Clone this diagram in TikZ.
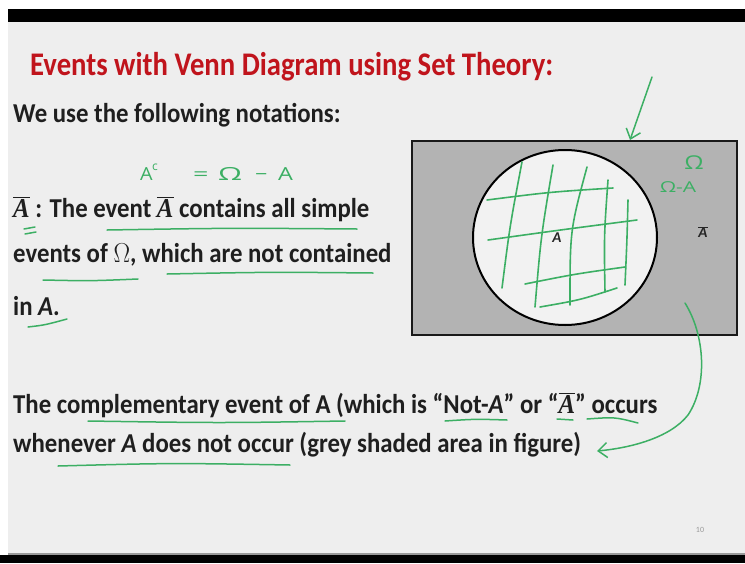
\documentclass[tikz,border=0pt]{standalone}
\usepackage{fontspec}
\setmainfont{Carlito}
\newfontfamily\handfont{Open Sans}
\newfontfamily\seriffont{Liberation Serif}
\usetikzlibrary{arrows.meta,shapes.geometric}
\definecolor{slidebg}{HTML}{EEEEEE}
\definecolor{titlered}{HTML}{C0141C}
\definecolor{pen}{RGB}{60,175,100}
\definecolor{shade}{HTML}{B3B3B3}
\definecolor{innerfill}{HTML}{F2F2F2}
\newcommand\Abar{$\overline{\mbox{\seriffont\itshape A}}$}
\newcommand\tallbody[1]{\scalebox{1}[1.1]{#1}}
\begin{document}
\begin{tikzpicture}[x=1pt,y=-1pt,
  txt/.style={anchor=base west, inner sep=0pt, font=\fontsize{24.8}{28}\selectfont\bfseries, text=black!88},
  ink/.style={draw=pen, line width=1.5pt, line cap=round, line join=round},
  hatch/.style={draw=pen, line width=1.6pt, line cap=round},
  tip/.style={-{Straight Barb[length=9pt,width=15pt,line width=1.5pt]}}
]
\useasboundingbox (0,0) rectangle (745,563);
\fill[white] (0,0) rectangle (745,563);
\fill[black] (8,9) rectangle (745,22);
\fill[slidebg] (8,22) rectangle (745,553);
\fill[black!40] (8,553) rectangle (745,555);
\fill[black] (0,555) rectangle (745,563);

% texts
\node[txt, font=\fontsize{28.7}{32}\selectfont\bfseries, text=titlered] (title) at (30,75) {\scalebox{1}[1.15]{Events with Venn Diagram using Set Theory:}};
\node[txt] (notes) at (13,122) {\tallbody{We use the following notations:}};
\node[anchor=base west, inner sep=0pt, text=pen, font=\handfont\fontsize{18}{20}\selectfont] (formula) at (140,180)
  {\makebox[12pt][l]{\scalebox{1.1}[1]{A}}\makebox[41pt][l]{\raisebox{10pt}{\fontsize{12}{12}\selectfont c}}\makebox[25pt][l]{\scalebox{1.5}[1]{=}}\makebox[37pt][l]{\scalebox{1.7}[1]{Ω}}\makebox[23pt][l]{\scalebox{1.2}[1]{−}}\scalebox{1.3}[1]{A}};
\node[txt] (lineA) at (13,217) {\tallbody{\Abar{} : The event \Abar{} contains all simple}};
\node[txt] (lineB) at (13,262) {\tallbody{events of $\Omega$, which are not contained}};
\node[txt] (lineC) at (13,315) {\tallbody{in \textit{A}.}};
\node[txt] (comp1) at (13,413) {\tallbody{The complementary event of A (which is “Not-\textit{A}” or “\Abar” occurs}};
\node[txt] (comp2) at (13,452) {\tallbody{whenever \textit{A} does not occur (grey shaded area in figure)}};
\node[text=black!40, font=\fontsize{8}{8}\selectfont, inner sep=0pt] (pg) at (700,530) {10};

% Venn diagram
\node[draw=black!90, line width=2.5pt, fill=shade, minimum width=325pt, minimum height=194pt, inner sep=0pt] (omega) at (574.5,238) {};
\node[ellipse, draw=black, line width=2pt, fill=innerfill, minimum width=184pt, minimum height=175pt, inner sep=0pt] (setA) at (565,237.5) {};

% hatching
\draw[hatch] (522,162) .. controls (510,225) .. (502,288);
\draw[hatch] (553,165) .. controls (541,236) .. (535,307);
\draw[hatch] (587,167) .. controls (570,230) .. (570,305);
\draw[hatch] (608,180) .. controls (604,236) .. (605,292);
\draw[hatch] (628,200) .. controls (627,240) .. (625,285);
\draw[hatch] (487,200) .. controls (550,192) .. (613,188);
\draw[hatch] (488,240) .. controls (560,230) .. (637,220);
\draw[hatch] (525,284) .. controls (575,274) .. (625,267);
\draw[hatch] (540,307) .. controls (580,300) .. (617,288);

\node[font=\fontsize{15}{15}\selectfont\bfseries\itshape, inner sep=0pt, text=black!85] (alabel) at (557,238) {A};
\node[font=\fontsize{15}{15}\selectfont, inner sep=0pt, text=black!85] (abar) at (703,232) {$\overline{\mbox{\bfseries\itshape A}}$};
\node[text=pen, font=\handfont\fontsize{19}{20}\selectfont, inner sep=0pt] (omlbl) at (694,163) {\scalebox{1.3}[1]{Ω}};
\node[text=pen, font=\handfont\fontsize{15}{15}\selectfont, inner sep=0pt] (omA) at (678,187) {\scalebox{1.4}[1]{Ω-A}};

% arrows
\coordinate (a1s) at (652,77);
\coordinate (a1e) at (630,140);
\draw[ink, tip] (a1s) -- (a1e);
\coordinate (a2s) at (685,303);
\coordinate (a2e) at (597,451);
\draw[ink, tip] (a2s) .. controls (705,335) and (708,385) .. (688,415) .. controls (670,438) and (630,448) .. (a2e);

% underlines
\draw[ink] (107,230) .. controls (230,228) .. (357,229);
\draw[ink] (24,229) -- (35,227);
\draw[ink] (25,234) -- (36,232);
\draw[ink] (43,280) .. controls (90,281) .. (138,279);
\draw[ink] (167,274) .. controls (270,272) .. (373,273);
\draw[ink] (28,327) .. controls (45,325) .. (67,319);
\draw[ink] (88,421) .. controls (220,423) .. (345,421);
\draw[ink] (445,421) .. controls (475,419) .. (507,420);
\draw[ink] (557,419) -- (573,420);
\draw[ink] (587,419) .. controls (615,417) .. (638,423);
\draw[ink] (58,466) .. controls (170,463) .. (290,465);
\end{tikzpicture}
\end{document}
